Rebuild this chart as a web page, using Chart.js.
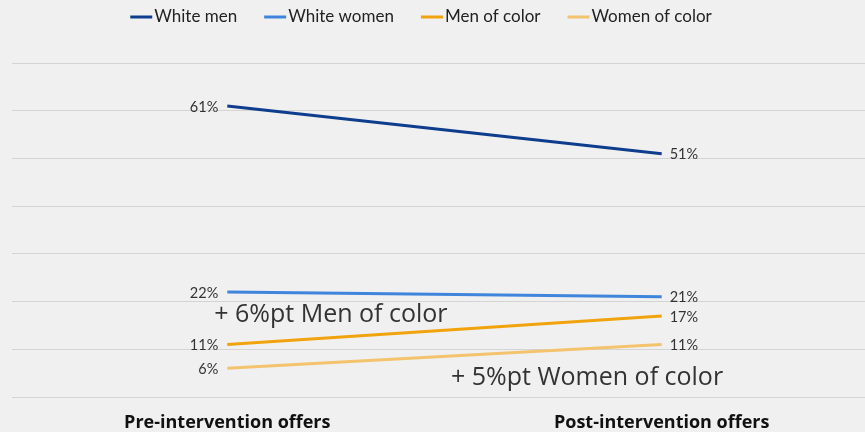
<!DOCTYPE html>
<html>
<head>
<meta charset="utf-8">
<script src="https://cdn.jsdelivr.net/npm/chart.js@4.4.0/dist/chart.umd.min.js"></script>
<style>
    html, body { margin: 0; padding: 0; background: #f0f0f0; }
    canvas { display: block; }
</style>
</head>
<body>
<canvas id="chart" width="865" height="432"></canvas>
<script>
// Data
var CATEGORIES = ['Pre-intervention offers', 'Post-intervention offers'];
var SERIES_NAMES = ['White men', 'White women', 'Men of color', 'Women of color'];
var WHITE_MEN = [61, 51];
var WHITE_WOMEN = [22, 21];
var MEN_OF_COLOR = [11, 17];
var WOMEN_OF_COLOR = [6, 11];
var Y_TICKS = [0, 10, 20, 30, 40, 50, 60, 70];

// Styles
var COLORS = ['#0e3d8e', '#3f85dc', '#f0a30c', '#f3c36e'];
var TEXT_COLOR = '#333333';
var FONT = '"Open Sans", Lato, sans-serif';

// callouts, placed in axis units (x: category index, y: percent)
var NOTES = [
    { text: '+ 6%pt Men of color', x: -0.03, y: 17.2 },
    { text: '+ 5%pt Women of color', x: 0.515, y: 4.0 }
];

function toPoints(values) {
    return values.map(function (v, i) { return { x: i, y: v }; });
}

var allSeries = [WHITE_MEN, WHITE_WOMEN, MEN_OF_COLOR, WOMEN_OF_COLOR];

var datasets = allSeries.map(function (values, i) {
    return {
        label: SERIES_NAMES[i],
        data: toPoints(values),
        borderColor: COLORS[i],
        backgroundColor: COLORS[i],
        borderWidth: 3,
        pointRadius: 0,
        tension: 0
    };
});

// value labels: left of the first point, right of the second
var valueLabels = {
    id: 'valueLabels',
    afterDatasetsDraw: function (chart) {
        var ctx = chart.ctx;
        ctx.save();
        ctx.font = '14.5px Lato, sans-serif';
        ctx.fillStyle = TEXT_COLOR;
        ctx.textBaseline = 'middle';
        chart.data.datasets.forEach(function (ds, i) {
            var meta = chart.getDatasetMeta(i);
            meta.data.forEach(function (pt, j) {
                var txt = ds.data[j].y + '%';
                if (j === 0) {
                    ctx.textAlign = 'right';
                    ctx.fillText(txt, pt.x - 9, pt.y + 1);
                } else {
                    ctx.textAlign = 'left';
                    ctx.fillText(txt, pt.x + 8, pt.y + 1);
                }
            });
        });
        ctx.restore();
    }
};

// big text callouts
var notes = {
    id: 'notes',
    afterDatasetsDraw: function (chart) {
        var ctx = chart.ctx;
        var xs = chart.scales.x, ys = chart.scales.y;
        ctx.save();
        ctx.font = '25px ' + FONT;
        ctx.fillStyle = TEXT_COLOR;
        ctx.textAlign = 'left';
        ctx.textBaseline = 'middle';
        NOTES.forEach(function (n) {
            ctx.fillText(n.text, xs.getPixelForValue(n.x), ys.getPixelForValue(n.y));
        });
        ctx.restore();
    }
};

// legend drawn as short line + label, tight like the original
var lineLegend = {
    id: 'lineLegend',
    afterDraw: function (chart) {
        var ctx = chart.ctx;
        var markW = 22, gap = 2, spacing = 27, y = 17;
        ctx.save();
        ctx.font = '17px Lato, sans-serif';
        ctx.textBaseline = 'middle';
        ctx.textAlign = 'left';
        var widths = SERIES_NAMES.map(function (s) { return ctx.measureText(s).width; });
        var total = 0;
        widths.forEach(function (w) { total += markW + gap + w; });
        total += spacing * (widths.length - 1);
        var x = 421 - total / 2;
        SERIES_NAMES.forEach(function (name, i) {
            ctx.strokeStyle = COLORS[i];
            ctx.lineWidth = 3;
            ctx.beginPath();
            ctx.moveTo(x, y);
            ctx.lineTo(x + markW, y);
            ctx.stroke();
            ctx.fillStyle = '#222222';
            ctx.fillText(name, x + markW + gap, y);
            x += markW + gap + widths[i] + spacing;
        });
        ctx.restore();
    }
};

var chart = new Chart(document.getElementById('chart'), {
    type: 'line',
    data: { datasets: datasets },
    plugins: [valueLabels, notes, lineLegend],
    options: {
        responsive: false,
        animation: false,
        layout: { padding: { top: 63, left: 12, right: 0, bottom: 0 } },
        plugins: {
            legend: { display: false },
            tooltip: { enabled: false }
        },
        scales: {
            x: {
                type: 'linear',
                min: -0.4956,
                max: 1.468,
                afterBuildTicks: function (axis) {
                    axis.ticks = [{ value: 0 }, { value: 1 }];
                },
                afterFit: function (axis) { axis.height = 35; },
                grid: { display: false, drawTicks: false },
                border: { display: false },
                ticks: {
                    autoSkip: false,
                    maxRotation: 0,
                    padding: 15,
                    color: '#111111',
                    font: { family: FONT, size: 18, weight: 'bold' },
                    callback: function (v) { return CATEGORIES[v]; }
                }
            },
            y: {
                min: Y_TICKS[0],
                max: Y_TICKS[Y_TICKS.length - 1],
                afterBuildTicks: function (axis) {
                    axis.ticks = Y_TICKS.map(function (v) { return { value: v }; });
                },
                grid: { color: '#d4d4d4', lineWidth: 1, drawTicks: false },
                border: { display: false },
                ticks: { display: false }
            }
        }
    }
});
</script>
</body>
</html>
